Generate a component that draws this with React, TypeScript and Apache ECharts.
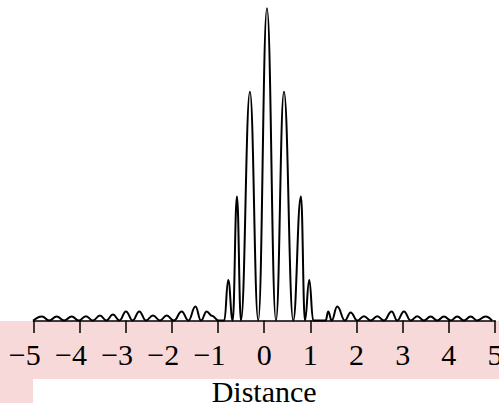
import React, { useEffect, useRef } from "react";
import * as echarts from "echarts";

// Distance values (x) of the traced curve: peaks, zeros and ripple troughs
const distance: number[] = [
  -5.0, -4.813, -4.655, -4.494, -4.332, -4.169, -4.016, -3.86, -3.708, -3.556,
  -3.416, -3.275, -3.134, -2.993, -2.848, -2.705, -2.56, -2.408, -2.257, -2.112,
  -1.954, -1.787, -1.64, -1.488, -1.369, -1.245, -1.131, -0.99, -0.864,
  -0.778, -0.682, -0.589, -0.502, -0.308, -0.128, 0.061, 0.256, 0.429, 0.63,
  0.797, 0.884, 0.977, 1.063, 1.332, 1.388, 1.462, 1.583, 1.75, 1.873, 2.016,
  2.162, 2.307, 2.45, 2.595, 2.762, 2.883, 3.028, 3.173, 3.316, 3.461, 3.606,
  3.749, 3.894, 4.046, 4.182, 4.327, 4.473, 4.609, 4.797, 4.934,
];
// Relative intensity at each distance value
const intensity: number[] = [
  0.0, 0.013, 0.0, 0.013, 0.0, 0.013, 0.0, 0.014, 0.0, 0.016,
  0.0, 0.019, 0.0, 0.029, 0.0, 0.029, 0.0, 0.016, 0.0, 0.016,
  0.0, 0.029, 0.0, 0.045, 0.0, 0.029, 0.015, 0.0, 0.0,
  0.13, 0.0, 0.397, 0.0, 0.733, 0.0, 1.0, 0.0, 0.733, 0.0,
  0.397, 0.0, 0.13, 0.0, 0.0, 0.029, 0.0, 0.045, 0.0, 0.026, 0.0,
  0.014, 0.0, 0.014, 0.0, 0.029, 0.0, 0.029, 0.0, 0.014, 0.0, 0.013,
  0.0, 0.013, 0.0, 0.013, 0.0, 0.013, 0.0, 0.013, 0.0,
];
const xTicks = { min: -5, max: 5, interval: 1 };
const axisTitle = "Distance";

const SERIF = "'Liberation Serif', 'Times New Roman', serif";

export default function App() {
  const ref = useRef<HTMLDivElement>(null);
  useEffect(() => {
    if (!ref.current) return;
    const chart = echarts.init(ref.current, undefined, { renderer: "svg" });
    const data = distance.map((d, i) => [d, intensity[i]]);
    const pink = "#f7d9d9";
    chart.setOption({
      animation: false,
      backgroundColor: "#ffffff",
      graphic: [
        { type: "rect", z: -10, shape: { x: 0, y: 321, width: 499, height: 58 }, style: { fill: pink }, silent: true },
        { type: "rect", z: -10, shape: { x: 0, y: 379, width: 33, height: 24 }, style: { fill: pink }, silent: true },
      ],
      grid: { left: 33.3, right: 4, top: 8.3, bottom: 82.5, containLabel: false, outerBoundsMode: "none" },
      xAxis: {
        type: "value",
        min: xTicks.min,
        max: xTicks.max,
        interval: xTicks.interval,
        name: axisTitle,
        nameLocation: "middle",
        nameGap: 56,
        nameTextStyle: { fontFamily: SERIF, fontSize: 30, color: "#000" },
        axisLine: { show: true, lineStyle: { color: "#000", width: 1.5 } },
        axisTick: { show: true, inside: false, length: 12.5, lineStyle: { color: "#000", width: 1.5 } },
        splitLine: { show: false },
        axisLabel: {
          margin: 19,
          fontFamily: SERIF,
          fontSize: 30,
          color: "#000",
          showMinLabel: true,
          showMaxLabel: true,
          formatter: (v: number) =>
            v < 0 ? `{n|\u2212${Math.abs(v)}}{s| }` : `{n|${v}}`,
          rich: {
            n: { fontFamily: SERIF, fontSize: 30, color: "#000" },
            s: { fontFamily: SERIF, fontSize: 30, width: 17 },
          },
        },
      },
      yAxis: { type: "value", min: 0, max: 1, show: false },
      series: [
        {
          type: "line",
          data,
          showSymbol: false,
          smooth: 0.45,
          smoothMonotone: "x",
          clip: false,
          lineStyle: { color: "#000", width: 2 },
          z: 5,
        },
      ],
    });
    return () => chart.dispose();
  }, []);
  return <div ref={ref} style={{ width: 499, height: 403, position: "absolute", left: 0, top: 0 }} />;
}
